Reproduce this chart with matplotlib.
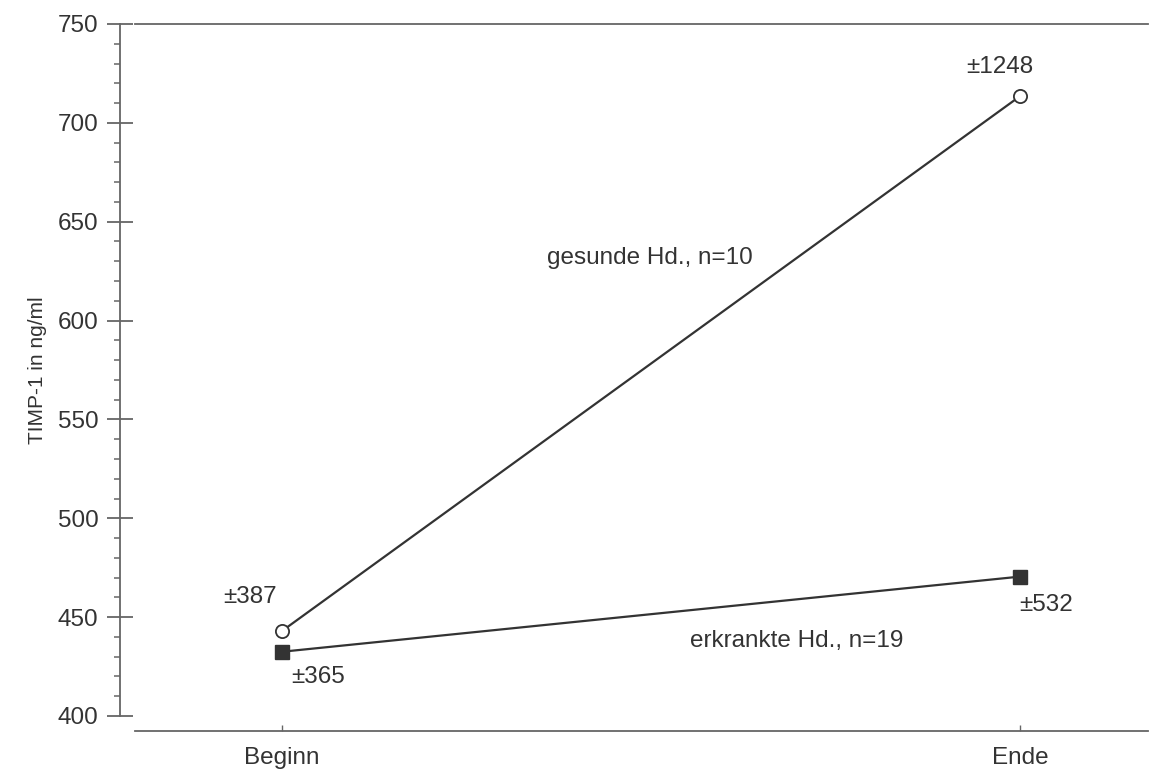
import numpy as np
import matplotlib.pyplot as plt

plt.rcParams['font.family'] = ['Liberation Sans', 'DejaVu Sans']

zeitpunkte = ['Beginn', 'Ende']
gesund = [443, 713.5]
erkrankt = [432.5, 470.5]
sd_gesund = ['±387', '±1248']
sd_erkrankt = ['±365', '±532']

text_col = '#333333'
axis_col = '#666666'
line_col = '#333333'

fig = plt.figure(figsize=(11.59, 7.69), dpi=100)
ax = fig.add_axes([120 / 1159, 1 - 716 / 769, 1028 / 1159, 692 / 769])

x = np.arange(len(zeitpunkte))
ax.plot(x, gesund, color=line_col, lw=1.6, marker='o', ms=9.5,
        mfc='white', mec=line_col, mew=1.3, zorder=3)
ax.plot(x, erkrankt, color=line_col, lw=1.6, marker='s', ms=9.5,
        mfc=line_col, mec=line_col, zorder=3)

ax.set_xlim(-0.2195, 1.1734)
ax.set_ylim(400, 750)

# standard deviations and group labels
fs = 17.5
ax.text(x[0] - 0.043, gesund[0] + 17, sd_gesund[0], fontsize=fs, color=text_col, ha='center', va='center')
ax.text(x[1] - 0.027, gesund[1] + 15, sd_gesund[1], fontsize=fs, color=text_col, ha='center', va='center')
ax.text(x[0] + 0.049, erkrankt[0] - 13, sd_erkrankt[0], fontsize=fs, color=text_col, ha='center', va='center')
ax.text(x[1] + 0.035, erkrankt[1] - 14.5, sd_erkrankt[1], fontsize=fs, color=text_col, ha='center', va='center')
ax.text(0.499, 631.5, 'gesunde Hd., n=10', fontsize=fs, color=text_col, ha='center', va='center')
ax.text(0.698, 438, 'erkrankte Hd., n=19', fontsize=fs, color=text_col, ha='center', va='center')

# axes styling
ax.spines['right'].set_visible(False)
ax.spines['left'].set_color(axis_col)
ax.spines['left'].set_linewidth(1.3)
ax.spines['top'].set_color(axis_col)
ax.spines['top'].set_linewidth(1.3)
ax.spines['top'].set_bounds(-0.1992, 1.1734)
ax.spines['bottom'].set_color(axis_col)
ax.spines['bottom'].set_linewidth(1.3)
ax.spines['bottom'].set_position(('outward', 11))
ax.spines['bottom'].set_bounds(-0.1992, 1.1734)

ax.set_xticks(x)
ax.set_xticklabels(zeitpunkte)
ax.tick_params(axis='x', direction='in', length=4, width=1, color=axis_col,
               labelsize=fs, labelcolor=text_col, pad=11)
ax.set_yticks(np.arange(400, 751, 50))
ax.set_yticks(np.arange(400, 751, 10), minor=True)
ax.tick_params(axis='y', which='major', direction='inout', length=19, width=1.3,
               color=axis_col, labelsize=fs, labelcolor=text_col, pad=6)
ax.tick_params(axis='y', which='minor', direction='out', length=4, width=1.1,
               color=axis_col)

ax.set_ylabel('TIMP-1 in ng/ml', fontsize=15, color=text_col)
ax.yaxis.set_label_coords(-0.071, 0.5)

fig.savefig('out.png', dpi=100)
